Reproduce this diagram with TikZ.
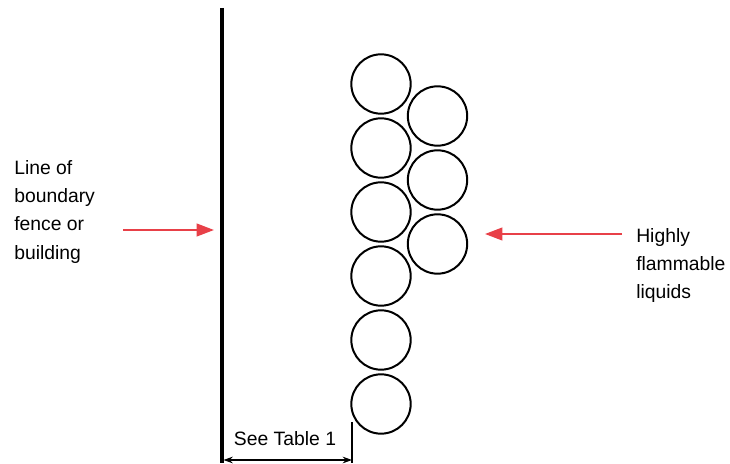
\documentclass[tikz,border=0pt]{standalone}
\usepackage{fontspec}
\setmainfont{Liberation Sans}
\usetikzlibrary{arrows.meta,positioning}
\definecolor{markred}{RGB}{232,64,72}
\tikzset{
  drum/.style={circle,draw,line width=1.5pt,minimum size=44.5pt,inner sep=0pt},
  label text/.style={align=left,anchor=north west,inner sep=0pt},
  pointer/.style={markred,line width=1.5pt,-{Triangle[length=13pt,width=9.5pt]}},
}

\begin{document}
\begin{tikzpicture}[x=0.75pt,y=-0.75pt,>=Stealth,font=\fontsize{14.5}{21.2}\selectfont]
  \useasboundingbox (0,0) rectangle (730,463);
  % the boundary line
  \coordinate (fenceTop) at (222,8);
  \coordinate (fenceBot) at (222,463);
  \draw[line width=3pt] (fenceTop) -- (fenceBot);
  % drums: two staggered stacks
  \foreach \i in {1,...,6}
     \node[drum] (drumL\i) at (381,20+64*\i) {};
  \foreach \i in {1,2,3}
     \node[drum] (drumR\i) at (437.5,52+64*\i) {};
  % labels
  \node[label text] (fenceText) at (14,160) {Line of\\boundary\\fence or\\building};
  \node[label text] (liquidText) at (636,228) {Highly\\flammable\\liquids};
  % red pointers
  \coordinate (fenceTail) at (123,230);
  \coordinate (fenceTip) at (214,230);
  \draw[pointer] (fenceTail) -- (fenceTip);
  \coordinate (liquidTail) at (622,234);
  \coordinate (liquidTip) at (485,234);
  \draw[pointer] (liquidTail) -- (liquidTip);
  % separation distance
  \coordinate (extTop) at (352,422);
  \coordinate (extBot) at (352,463);
  \draw[line width=0.8pt] (extTop) -- (extBot);
  \coordinate (dimL) at (223.5,460);
  \coordinate (dimR) at (352,460);
  \draw[line width=0.8pt,{Stealth[length=7pt,width=5pt]}-{Stealth[length=7pt,width=5pt]}] (dimL) -- (dimR);
  \node[anchor=base,inner sep=0pt] (distText) at (285,445) {See Table 1};
\end{tikzpicture}
\end{document}
